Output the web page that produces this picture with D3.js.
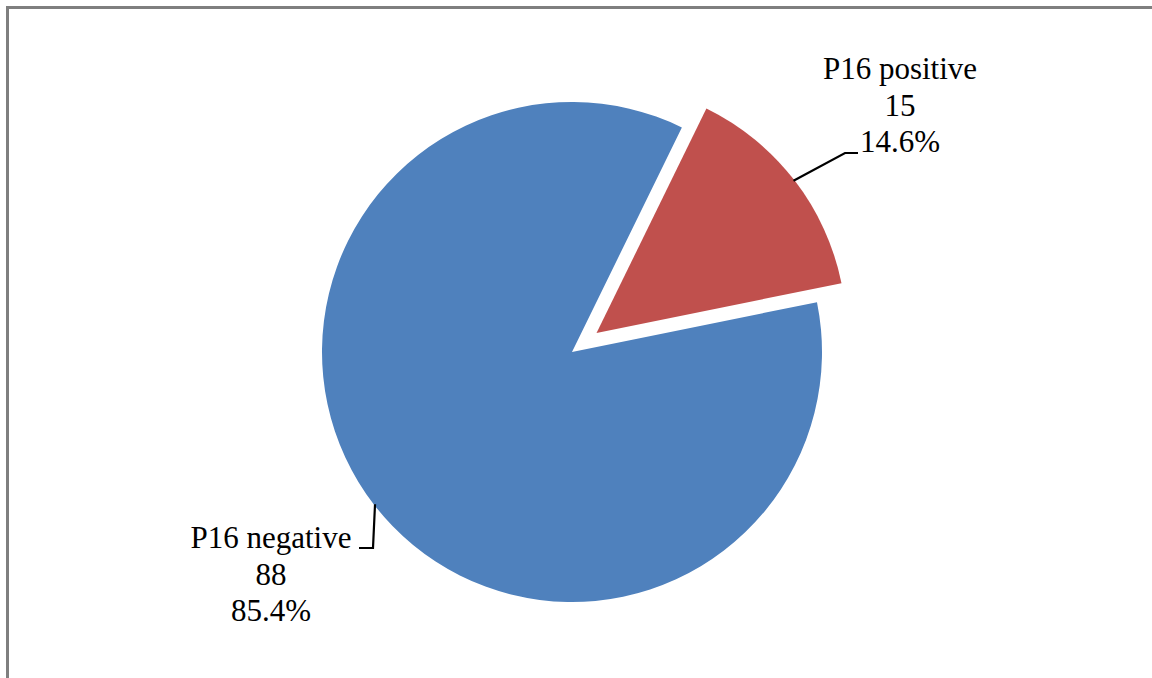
<!DOCTYPE html>
<html>
<head>
<meta charset="utf-8">
<script src="https://cdn.jsdelivr.net/npm/d3@7"></script>
<style>
  html, body { margin: 0; padding: 0; background: #fff; }
  svg { display: block; }
  text { font-family: "Liberation Serif", "Times New Roman", serif; fill: #000; }
</style>
</head>
<body>
<svg id="chart" width="1152" height="678"></svg>
<script>
// ---- data ----
const categories = ["P16 negative", "P16 positive"];
const values = [88, 15];
const percentLabels = ["85.4%", "14.6%"];
const colors = ["#4F81BD", "#C0504D"];

// ---- layout ----
const W = 1152, H = 678;
const cx = 572, cy = 352, R = 250;
const explode = [0, 31];
const startDeg = 78.5;
const fontSize = 31, lineH = 36.5;
// label block: anchor centre x, first baseline y; leader elbow points
const labelLayout = [
  { x: 271, y: 548, elbow: [373, 548], end: [359, 548] },
  { x: 900, y: 79, elbow: [845, 153], end: [858, 153] }
];

const svg = d3.select("#chart");

// frame (left and top edges visible)
svg.append("line").attr("x1", 7.5).attr("y1", 6).attr("x2", 7.5).attr("y2", H)
  .attr("stroke", "#7f7f7f").attr("stroke-width", 3);
svg.append("line").attr("x1", 6).attr("y1", 7.5).attr("x2", W).attr("y2", 7.5)
  .attr("stroke", "#7f7f7f").attr("stroke-width", 3);

const a0 = startDeg * Math.PI / 180;
const pie = d3.pie().sort(null).value(d => d).startAngle(a0).endAngle(a0 + 2 * Math.PI);
const arcs = pie(values);
const arc = d3.arc().innerRadius(0).outerRadius(R);

const g = svg.append("g").attr("transform", `translate(${cx},${cy})`);

arcs.forEach((a, i) => {
  const mid = (a.startAngle + a.endAngle) / 2;
  const ox = explode[i] * Math.sin(mid), oy = -explode[i] * Math.cos(mid);
  g.append("path")
    .attr("d", arc(a))
    .attr("transform", `translate(${ox},${oy})`)
    .attr("fill", colors[i]);

  // leader line from slice edge at mid angle
  const sx = cx + ox + (R - 1) * Math.sin(mid);
  const sy = cy + oy - (R - 1) * Math.cos(mid);
  const L = labelLayout[i];
  svg.append("polyline")
    .attr("points", [[sx, sy], L.elbow, L.end].map(p => p.join(",")).join(" "))
    .attr("fill", "none").attr("stroke", "#000").attr("stroke-width", 2.2);

  const t = svg.append("text")
    .attr("text-anchor", "middle")
    .attr("font-size", fontSize);
  [categories[i], String(values[i]), percentLabels[i]].forEach((s, k) => {
    t.append("tspan").attr("x", L.x).attr("y", L.y + k * lineH).text(s);
  });
});
</script>
</body>
</html>
